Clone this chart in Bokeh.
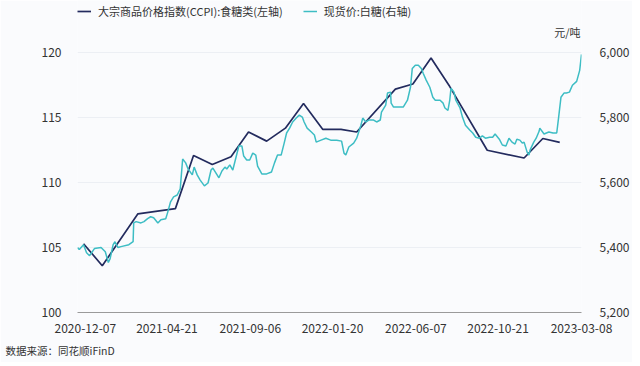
from bokeh.plotting import figure
from bokeh.models import (Range1d, LinearAxis, FixedTicker, DatetimeTickFormatter,
                          NumeralTickFormatter, Legend, LegendItem, Label, Title,
                          ColumnDataSource)
from bokeh.embed import file_html
from bokeh.resources import INLINE
import pandas as pd

# ---------------- data ----------------
tick_dates = ["2020-12-07", "2021-04-21", "2021-09-06", "2022-01-20",
              "2022-06-07", "2022-10-21", "2023-03-08"]
left_ticks = [100, 105, 110, 115, 120]
right_ticks = [5200, 5400, 5600, 5800, 6000]

ccpi_name = "大宗商品价格指数(CCPI):食糖类(左轴)"
ccpi_dates = ["2020-12-04", "2021-01-04", "2021-03-04", "2021-05-05", "2021-06-04",
              "2021-07-05", "2021-08-05", "2021-09-03", "2021-10-03", "2021-11-03",
              "2021-12-03", "2022-01-04", "2022-02-03", "2022-03-01", "2022-05-04",
              "2022-06-02", "2022-07-02", "2022-08-02", "2022-10-03", "2022-12-03",
              "2023-01-03", "2023-01-31"]
ccpi_values = [105.3, 103.6, 107.6, 108.0, 112.1, 111.4, 112.0, 113.9, 113.2, 114.2,
               116.1, 114.1, 114.1, 113.9, 117.2, 117.6, 119.6, 117.4, 112.5, 111.9,
               113.4, 113.1]

sugar_name = "现货价:白糖(右轴)"
sugar_dates = [
    "2020-11-24", "2020-11-27", "2020-12-04", "2020-12-09", "2020-12-14", "2020-12-22",
    "2021-01-02", "2021-01-09", "2021-01-14", "2021-01-17", "2021-01-22", "2021-01-25",
    "2021-01-30", "2021-02-04", "2021-02-17", "2021-02-24", "2021-02-25", "2021-03-01",
    "2021-03-09", "2021-03-14", "2021-03-20", "2021-03-25", "2021-03-30", "2021-04-06",
    "2021-04-11", "2021-04-19", "2021-04-22", "2021-04-27", "2021-05-02", "2021-05-08",
    "2021-05-13", "2021-05-17", "2021-05-22", "2021-05-26", "2021-06-02", "2021-06-05",
    "2021-06-10", "2021-06-15", "2021-06-22", "2021-06-28", "2021-07-03", "2021-07-06",
    "2021-07-13", "2021-07-16", "2021-07-21", "2021-07-26", "2021-07-29", "2021-08-03",
    "2021-08-08", "2021-08-13", "2021-08-18", "2021-08-23", "2021-08-26", "2021-08-31",
    "2021-09-05", "2021-09-10", "2021-09-15", "2021-09-18", "2021-09-25", "2021-10-03",
    "2021-10-11", "2021-10-16", "2021-10-21", "2021-10-27", "2021-11-01", "2021-11-05",
    "2021-11-10", "2021-11-15", "2021-11-21", "2021-11-26", "2021-12-01", "2021-12-04",
    "2021-12-09", "2021-12-16", "2021-12-21", "2021-12-24", "2022-01-01", "2022-01-09",
    "2022-01-17", "2022-01-27", "2022-02-04", "2022-02-08", "2022-02-11", "2022-02-16",
    "2022-02-24", "2022-03-01", "2022-03-08", "2022-03-11", "2022-03-16", "2022-03-21",
    "2022-03-29", "2022-04-03", "2022-04-09", "2022-04-11", "2022-04-18", "2022-04-21",
    "2022-04-26", "2022-04-27", "2022-05-01", "2022-05-09", "2022-05-17", "2022-05-24",
    "2022-05-29", "2022-06-01", "2022-06-06", "2022-06-11", "2022-06-16", "2022-06-19",
    "2022-06-24", "2022-06-30", "2022-07-05", "2022-07-09", "2022-07-17", "2022-07-22",
    "2022-07-25", "2022-07-30", "2022-08-02", "2022-08-04", "2022-08-09", "2022-08-12",
    "2022-08-19", "2022-08-23", "2022-08-28", "2022-09-04", "2022-09-09", "2022-09-14",
    "2022-09-20", "2022-09-25", "2022-09-30", "2022-10-07", "2022-10-12", "2022-10-16",
    "2022-10-23", "2022-10-28", "2022-11-03", "2022-11-08", "2022-11-13", "2022-11-18",
    "2022-11-21", "2022-11-26", "2022-11-30", "2022-12-03", "2022-12-08", "2022-12-11",
    "2022-12-13", "2022-12-19", "2022-12-23", "2022-12-28", "2022-12-29", "2023-01-05",
    "2023-01-13", "2023-01-20", "2023-01-26", "2023-01-29", "2023-02-02", "2023-02-07",
    "2023-02-11", "2023-02-16", "2023-02-21", "2023-02-28", "2023-03-05", "2023-03-08"]
sugar_values = [
    5400, 5394, 5409, 5384, 5375, 5397,
    5400, 5387, 5354, 5366, 5409, 5418,
    5400, 5403, 5409, 5418, 5476, 5480,
    5476, 5480, 5489, 5495, 5492, 5476,
    5486, 5489, 5507, 5541, 5556, 5562,
    5581, 5673, 5661, 5642, 5624, 5648,
    5624, 5608, 5590, 5599, 5639, 5645,
    5624, 5615, 5636, 5648, 5642, 5655,
    5639, 5676, 5713, 5713, 5682, 5670,
    5670, 5691, 5685, 5651, 5627, 5627,
    5633, 5661, 5685, 5685, 5722, 5753,
    5768, 5787, 5799, 5808, 5802, 5787,
    5768, 5756, 5747, 5725, 5731, 5737,
    5731, 5731, 5728, 5691, 5685, 5710,
    5722, 5737, 5777, 5799, 5787, 5793,
    5793, 5787, 5793, 5817, 5839, 5876,
    5879, 5845, 5833, 5833, 5833, 5854,
    5894, 5952, 5962, 5962, 5952, 5937,
    5916, 5894, 5863, 5854, 5854, 5845,
    5830, 5823, 5854, 5891, 5879, 5854,
    5830, 5802, 5777, 5762, 5753, 5740,
    5737, 5744, 5737, 5740, 5740, 5750,
    5734, 5716, 5713, 5737, 5725, 5719,
    5734, 5731, 5722, 5725, 5694, 5685,
    5701, 5725, 5737, 5759, 5768, 5750,
    5756, 5753, 5753, 5799, 5863, 5876,
    5876, 5879, 5900, 5912, 5946, 5995]

unit_text = "元/吨"
source_text = "数据来源：同花顺iFinD"

# ---------------- styling / layout ----------------
FONT = "Noto Sans CJK SC"
NAVY = "#232b5e"
TEAL = "#3dbdc4"
BG = "#fafbfd"
TXT = "#333333"

W, H = 632, 362
LEFT, RIGHT, BOTTOM = 77, 585, 313     # frame edges in px
AXIS_TOP = 52.5                        # px where the top tick sits
# the frame reaches the top of the canvas so the key can sit inside it
plot_h = BOTTOM - AXIS_TOP
left_top = left_ticks[-1] + AXIS_TOP * (left_ticks[-1] - left_ticks[0]) / plot_h
right_top = right_ticks[-1] + AXIS_TOP * (right_ticks[-1] - right_ticks[0]) / plot_h

ccpi_src = ColumnDataSource(dict(x=pd.to_datetime(ccpi_dates), y=ccpi_values))
sugar_src = ColumnDataSource(dict(x=pd.to_datetime(sugar_dates), y=sugar_values))

p = figure(width=W, height=H, x_axis_type="datetime",
           x_range=Range1d(pd.Timestamp(sugar_dates[0]), pd.Timestamp(sugar_dates[-1])),
           y_range=Range1d(left_ticks[0], left_top),
           output_backend="svg", toolbar_location=None,
           min_border_left=LEFT, min_border_right=W - RIGHT, min_border_top=0,
           min_border_bottom=H - BOTTOM)
p.title.visible = False
p.extra_y_ranges = {"right": Range1d(right_ticks[0], right_top)}
p.background_fill_color = BG
p.border_fill_color = BG
p.outline_line_color = None

r_ccpi = p.line("x", "y", source=ccpi_src, line_color=NAVY, line_width=1.7)
r_sugar = p.line("x", "y", source=sugar_src, line_color=TEAL, line_width=1.5,
                 y_range_name="right")

# x axis
xa = p.xaxis[0]
xa.ticker = FixedTicker(ticks=[pd.Timestamp(d).value / 1e6 for d in tick_dates])
fmt = "%Y-%m-%d"
xa.formatter = DatetimeTickFormatter(milliseconds=fmt, seconds=fmt, minsec=fmt, minutes=fmt,
                                     hourmin=fmt, hours=fmt, days=fmt, months=fmt, years=fmt)
xa.axis_line_color = "#9a9a9a"
xa.major_tick_line_color = None
xa.minor_tick_line_color = None
xa.major_label_standoff = 5
xa.major_label_text_font = FONT
xa.major_label_text_font_size = "12px"
xa.major_label_text_color = TXT

# left axis
ya = p.yaxis[0]
ya.ticker = FixedTicker(ticks=left_ticks)
ya.axis_line_color = None
ya.major_tick_line_color = None
ya.minor_tick_line_color = None
ya.major_label_standoff = 10
ya.major_label_text_font = FONT
ya.major_label_text_font_size = "12px"
ya.major_label_text_color = TXT

# right axis
ra = LinearAxis(y_range_name="right", ticker=FixedTicker(ticks=right_ticks),
                formatter=NumeralTickFormatter(format="0,0"))
ra.axis_line_color = None
ra.major_tick_line_color = None
ra.minor_tick_line_color = None
ra.major_label_standoff = 12
ra.major_label_text_font = FONT
ra.major_label_text_font_size = "12px"
ra.major_label_text_color = TXT
p.add_layout(ra, "right")

p.xgrid.grid_line_color = None
p.ygrid.grid_line_color = "#eceff4"
p.ygrid.ticker = FixedTicker(ticks=left_ticks)

# series key at the top of the frame
legend = Legend(items=[LegendItem(label=ccpi_name, renderers=[r_ccpi]),
                       LegendItem(label=sugar_name, renderers=[r_sugar])],
                location=(0, BOTTOM - 20), orientation="horizontal",
                background_fill_alpha=0, border_line_alpha=0,
                label_text_font=FONT, label_text_font_size="11px",
                label_text_color=TXT, glyph_width=14, glyph_height=12,
                label_height=12, label_standoff=7, spacing=20, padding=0, margin=0)
p.add_layout(legend, "center")

# unit over the right axis
p.add_layout(Label(x=RIGHT - LEFT - 5, y=BOTTOM - 32, x_units="screen", y_units="screen",
                   text=unit_text, text_align="right", text_baseline="middle",
                   text_font=FONT, text_font_size="11px", text_color=TXT))

# data source note under the x axis
p.add_layout(Title(text=source_text, align="left", offset=-72,
                   text_font=FONT, text_font_size="10.5px", text_font_style="normal",
                   text_color=TXT), "below")

open("out.html", "w").write(file_html(p, INLINE))
